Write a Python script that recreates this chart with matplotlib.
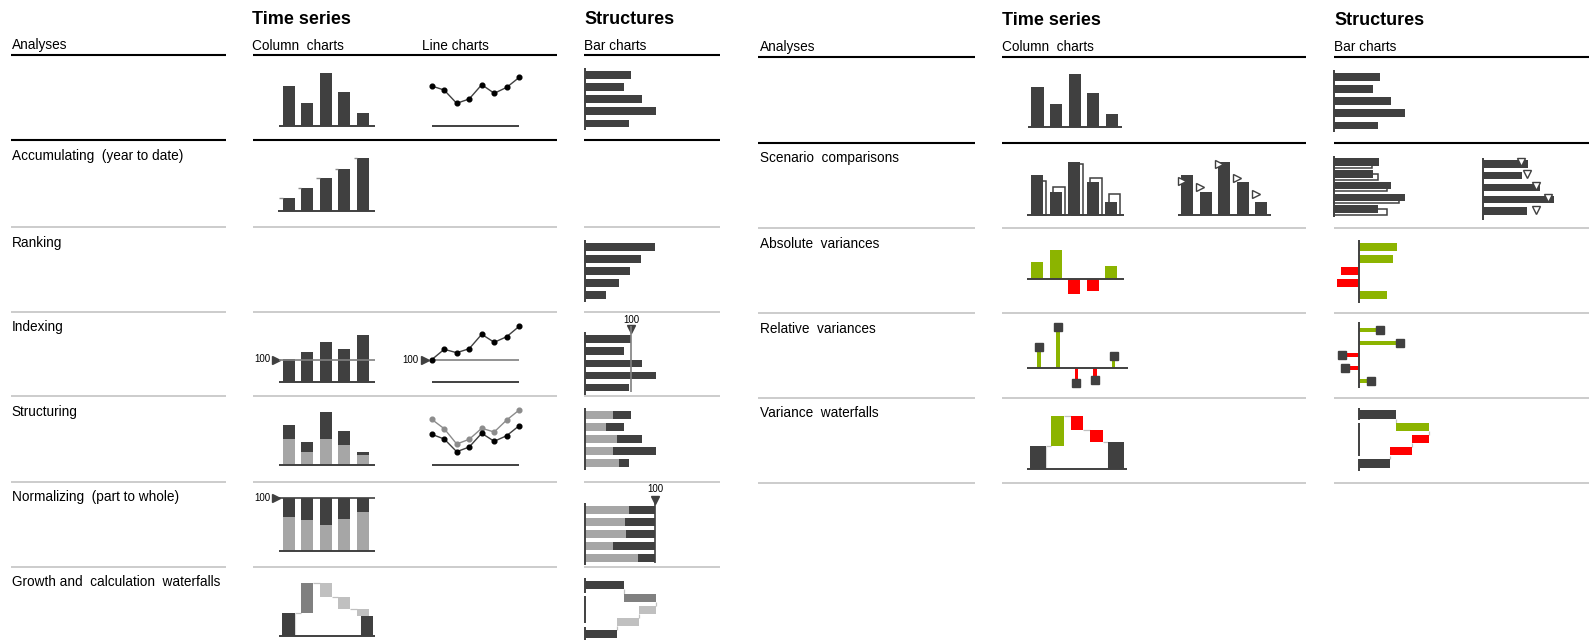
import matplotlib
matplotlib.use('Agg')
import matplotlib.pyplot as plt
from matplotlib.lines import Line2D
import numpy as np

plt.rcParams['font.family'] = ['Liberation Sans', 'DejaVu Sans']

W, H = 1591, 640
fig = plt.figure(figsize=(W / 100, H / 100), dpi=100)

DARK = '#404040'; LIGHT = '#a6a6a6'; MID = '#808080'; PALE = '#c0c0c0'
GREEN = '#8cb400'; RED = '#ff0000'; RULE = '#bfbfbf'; LGRAY = '#8c8c8c'

# ---------------- data ----------------
section_titles = ['Time series', 'Structures']
left_headers = ['Analyses', 'Column  charts', 'Line charts', 'Bar charts']
left_rows = ['Accumulating  (year to date)', 'Ranking', 'Indexing', 'Structuring',
             'Normalizing  (part to whole)', 'Growth and  calculation  waterfalls']
right_headers = ['Analyses', 'Column  charts', 'Bar charts']
right_rows = ['Scenario  comparisons', 'Absolute  variances', 'Relative  variances',
              'Variance  waterfalls']
index_label = '100'

col_basic = [40, 23, 53, 33.5, 13]
line_basic = [39.7, 35.7, 22.4, 26.7, 41, 32.4, 38.4, 48.4]
bar_basic = [45.5, 39, 57, 71, 44]
col_accum = [13.3, 23, 32.7, 41.7, 53]
bar_rank = [70, 56.3, 44.7, 34, 21]
col_index = [22.4, 29.7, 39.4, 33, 46.7]
col_index_ref = 22.2
line_index = [22, 32.4, 29, 33, 47.4, 39.4, 45, 55.4]
line_index_ref = 22
bar_index_ref = 46
col_struct_total = [40, 23.3, 52.7, 34, 13.3]
col_struct_part = [26, 13.3, 26, 19.7, 10]
line_struct_a = [45.7, 36.3, 21, 25.7, 36.7, 33, 45, 55]
line_struct_b = [30.7, 26, 13.3, 18, 31.7, 23.7, 29.3, 39.3]
bar_struct_part = [28, 20.7, 32.3, 28, 34]
col_norm_total = 53
col_norm_part = [34, 30.7, 25.7, 31.4, 39]
bar_norm_total = 70
bar_norm_part = [44, 39.7, 40.7, 28.3, 53]
col_growth = [22.3, 30, -13.3, -12.6, -6.4]
col_growth_end = 20
bar_growth = [38.5, 32, -16.5, -22.5]
bar_growth_end = 31.5

col_py = [34.6, 28.6, 51, 37, 21]
bar_py = [38.8, 44.3, 53.3, 65.7, 53.3]
col_abs = [16.7, 29, -15, -12, 13]
bar_abs = [38.2, 34.3, -18.3, -22.2, 28.4]
col_rel = [21.3, 41.3, -15.3, -12, 12]
bar_rel = [20.7, 40.9, -16.4, -13.8, 12.1]
col_var_wf = [23.3, 30, -14.3, -12.3]
col_var_wf_end = 26.7
bar_var_wf = [37.4, 33.1, -17.4, -22.2]
bar_var_wf_end = 30.9

# ---------------- helpers ----------------
def fig_axes(left, top, right, bottom):
    ax = fig.add_axes([left / W, 1 - bottom / H, (right - left) / W, (bottom - top) / H])
    ax.axis('off')
    return ax


def col_axes(c0, pitch, base, xlo=-1.6, xhi=5.2, ylo=-25, yhi=62):
    ax = fig_axes(c0 + xlo * pitch, base - yhi, c0 + xhi * pitch, base - ylo)
    ax.set_xlim(xlo, xhi)
    ax.set_ylim(ylo, yhi)
    return ax


def bar_axes(a0, c0, pitch, xlo=-30, xhi=85, ylo=-2.2, yhi=5.2):
    ax = fig_axes(a0 + xlo, c0 + ylo * pitch, a0 + xhi, c0 + yhi * pitch)
    ax.set_xlim(xlo, xhi)
    ax.set_ylim(yhi, ylo)
    return ax


def ftext(x, y, s, **kw):
    fig.text(x / W, 1 - y / H, s, **kw)


def hrule(x0, x1, y, color, lw):
    fig.add_artist(Line2D([x0 / W, x1 / W], [1 - y / H, 1 - y / H],
                          transform=fig.transFigure, color=color, lw=lw,
                          solid_capstyle='butt'))


def baseline(ax, x0=-0.52, x1=4.62):
    ax.hlines(0, x0, x1, color=DARK, lw=1.4)


def vaxis(ax, y0=-0.58, y1=4.58):
    ax.vlines(0, y0, y1, color=DARK, lw=1.4)


X5 = np.arange(5)
X8 = np.arange(8)
CW = 0.65   # column width (category units)
BH = 0.64   # bar height (category units)
TFS = 13    # title font size
LFS = 9.8   # label font size
SFS = 7     # small label

# ---------------- table frames ----------------
ftext(252.5, 23.5, section_titles[0], fontsize=TFS, fontweight='bold')
ftext(584.5, 23.5, section_titles[1], fontsize=TFS, fontweight='bold')
for s, x in zip(left_headers, [11.5, 252.5, 422, 584.5]):
    ftext(x, 49.5, s, fontsize=LFS)
L_SEG = [(10.5, 226), (252.5, 557), (584, 720)]
L_LINES = [55, 140, 226.5, 311.5, 396, 481.5, 566.5]
for i, y in enumerate(L_LINES):
    for x0, x1 in L_SEG:
        if i < 2:
            hrule(x0, x1, y, 'black', 1.5)
        else:
            hrule(x0, x1, y, RULE, 1.1)
for s, y in zip(left_rows, L_LINES[1:]):
    ftext(11.5, y + 20, s, fontsize=LFS)

ftext(1001.8, 25, section_titles[0], fontsize=TFS, fontweight='bold')
ftext(1334, 25, section_titles[1], fontsize=TFS, fontweight='bold')
for s, x in zip(right_headers, [760, 1002, 1334]):
    ftext(x, 51, s, fontsize=LFS)
R_SEG = [(757.5, 974.5), (1001.8, 1305.5), (1334, 1589)]
R_LINES = [57.3, 142.7, 228.3, 313.3, 397.8, 483]
for i, y in enumerate(R_LINES):
    for x0, x1 in R_SEG:
        if i < 2:
            hrule(x0, x1, y, 'black', 1.5)
        else:
            hrule(x0, x1, y, RULE, 1.1)
for s, y in zip(right_rows, R_LINES[1:]):
    ftext(760, y + 19.5, s, fontsize=LFS)

# ================= LEFT TABLE CHARTS =================
ax = col_axes(288.6, 18.6, 125.7)
ax.bar(X5, col_basic, width=CW, color=DARK)
baseline(ax, -0.5, 4.62)

ax = col_axes(431.6, 12.53, 125.7, xlo=-2, xhi=8)
ax.plot(X8, line_basic, color=DARK, lw=1.0, marker='o', ms=3.4, mfc='black', mec='black')
ax.hlines(0, 0, 7, color=DARK, lw=1.4)

ax = bar_axes(585, 75, 12.1)
ax.barh(X5, bar_basic, height=BH, color=DARK)
vaxis(ax)

# accumulating
ax = col_axes(288.6, 18.6, 211)
ax.bar(X5, col_accum, width=CW, color=DARK)
ax.hlines(col_accum, X5 - CW / 2 - 0.18, X5 - CW / 2, color=LGRAY, lw=1.0)
baseline(ax, -0.55, 4.62)

# ranking
ax = bar_axes(585, 246.7, 12.1)
ax.barh(X5, bar_rank, height=BH, color=DARK)
vaxis(ax)

# indexing
ax = col_axes(288.6, 18.6, 381.7)
ax.bar(X5, col_index, width=CW, color=DARK, zorder=2)
ax.hlines(col_index_ref, -0.5, 4.62, color=MID, lw=1.2, zorder=3)
ax.plot([-0.68], [col_index_ref], marker='>', ms=5.5, color=DARK, clip_on=False)
ax.text(-1.0, col_index_ref, index_label, fontsize=SFS, ha='right', va='center')
baseline(ax, -0.5, 4.62)

ax = col_axes(431.7, 12.5, 381.7, xlo=-3.5, xhi=8)
ax.hlines(line_index_ref, 0, 7, color=MID, lw=1.2)
ax.plot(X8, line_index, color=DARK, lw=1.0, marker='o', ms=3.4, mfc='black', mec='black')
ax.plot([-0.55], [line_index_ref], marker='>', ms=5.5, color=DARK)
ax.text(-1.08, line_index_ref, index_label, fontsize=SFS, ha='right', va='center')
ax.hlines(0, 0, 7, color=DARK, lw=1.4)

ax = bar_axes(585, 339.2, 12.1)
ax.barh(X5, bar_basic, height=BH, color=DARK, zorder=2)
ax.vlines(bar_index_ref, -1.09, 4.35, color=MID, lw=1.2, zorder=3)
ax.plot([bar_index_ref], [-0.85], marker='v', ms=5.5, color=DARK)
ax.text(bar_index_ref + 0.8, -1.55, index_label, fontsize=SFS, ha='center', va='center')
vaxis(ax)

# structuring
ax = col_axes(288.6, 18.6, 465)
ax.bar(X5, col_struct_part, width=CW, color=LIGHT)
ax.bar(X5, np.subtract(col_struct_total, col_struct_part), bottom=col_struct_part,
       width=CW, color=DARK)
baseline(ax, -0.52, 4.62)

ax = col_axes(431.7, 12.5, 465, xlo=-2, xhi=8)
ax.plot(X8, line_struct_a, color=LGRAY, lw=1.0, marker='o', ms=3.4)
ax.plot(X8, line_struct_b, color=DARK, lw=1.0, marker='o', ms=3.4, mfc='black', mec='black')
ax.hlines(0, 0, 7, color=DARK, lw=1.4)

ax = bar_axes(585, 415.2, 12.03)
ax.barh(X5, bar_struct_part, height=BH, color=LIGHT)
ax.barh(X5, np.subtract(bar_basic, bar_struct_part), left=bar_struct_part,
        height=BH, color=DARK)
vaxis(ax)

# normalizing
ax = col_axes(288.6, 18.6, 550.7)
ax.bar(X5, col_norm_part, width=CW, color=LIGHT)
ax.bar(X5, np.subtract(col_norm_total, col_norm_part), bottom=col_norm_part,
       width=CW, color=DARK)
ax.hlines(col_norm_total, -0.5, 4.62, color=DARK, lw=1.2)
ax.plot([-0.66], [col_norm_total], marker='>', ms=5.5, color=DARK, clip_on=False)
ax.text(-1.0, col_norm_total, index_label, fontsize=SFS, ha='right', va='center')
baseline(ax, -0.52, 4.62)

ax = bar_axes(585, 509.8, 12.0)
ax.barh(X5, bar_norm_part, height=BH, color=LIGHT)
ax.barh(X5, np.subtract(bar_norm_total, bar_norm_part), left=bar_norm_part,
        height=BH, color=DARK)
ax.vlines(bar_norm_total, -1.1, 4.45, color=DARK, lw=1.2)
ax.plot([bar_norm_total], [-0.85], marker='v', ms=5.5, color=DARK)
ax.text(bar_norm_total + 0.8, -1.7, index_label, fontsize=SFS, ha='center', va='center')
vaxis(ax)

# growth waterfalls
ax = col_axes(288.6, 18.6, 635.7)
lv = np.cumsum(col_growth)
starts = np.concatenate([[0], lv[:-1]])
wf_colors = [DARK, MID, PALE, PALE, PALE]
wf_w = [0.68, CW, CW, CW, CW]
ax.bar(X5, col_growth, bottom=starts, width=wf_w, color=wf_colors, zorder=2)
ax.bar([4.2], [col_growth_end], width=0.63, color=DARK, zorder=3)
ax.hlines(lv[:-1], X5[:-1] + CW / 2, X5[1:] - CW / 2, color=PALE, lw=0.9, zorder=1)
ax.vlines([0.34, 3.88], 0, [lv[0], col_growth_end], color='#d9d9d9', lw=0.8, zorder=1)
baseline(ax, -0.5, 4.62)

ax = bar_axes(585, 585.4, 12.2)
lvb = np.cumsum(bar_growth)
startsb = np.concatenate([[0], lvb[:-1]])
ax.barh(X5[:4], bar_growth, left=startsb, height=BH, color=[DARK, MID, PALE, PALE], zorder=2)
ax.barh([4], [bar_growth_end], height=BH, color=DARK, zorder=2)
ax.vlines(lvb, X5[:4] + BH / 2, X5[1:] - BH / 2, color=PALE, lw=0.9, zorder=1)
ax.vlines(0, -0.6, 0.6, color=DARK, lw=1.4)
ax.vlines(0, 0.9, 3.1, color=DARK, lw=1.4)
ax.vlines(0, 3.4, 4.6, color=DARK, lw=1.4)

# ================= RIGHT TABLE CHARTS =================
ax = col_axes(1037.5, 18.6, 126.7)
ax.bar(X5, col_basic, width=CW, color=DARK)
baseline(ax, -0.53, 4.52)

ax = bar_axes(1334, 77, 12.1)
ax.barh(X5, bar_basic, height=BH, color=DARK)
vaxis(ax)

# scenario comparisons
ax = col_axes(1037.25, 18.5, 215.3)
ax.bar(X5 + 0.18, col_py, width=0.62, facecolor='white', edgecolor=DARK, lw=1.1, zorder=1)
ax.bar(X5, col_basic, width=CW, color=DARK, zorder=2)
baseline(ax, -0.53, 4.7)

ax = col_axes(1187.35, 18.45, 215.3)
ax.bar(X5, col_basic, width=CW, color=DARK, zorder=2)
ax.plot(X5 - CW / 2 + 0.03, col_py, ls='none', marker='>', ms=5.2, mfc='white',
        mec=DARK, mew=1.0, zorder=3)
baseline(ax, -0.53, 4.55)

ax = bar_axes(1333.5, 162, 11.8)
ax.barh(X5 + 0.24, bar_py, height=0.5, facecolor='white', edgecolor=DARK, lw=1.1, zorder=1)
ax.barh(X5, bar_basic, height=0.65, color=DARK, zorder=2)
vaxis(ax, -0.55, 4.7)

ax = bar_axes(1482.5, 163.7, 11.9)
ax.barh(X5, bar_basic, height=0.64, color=DARK, zorder=2)
ax.plot(bar_py, X5 - 0.15, ls='none', marker='v', ms=5.2, mfc='white',
        mec=DARK, mew=1.0, zorder=3)
vaxis(ax, -0.45, 4.7)

# absolute variances
ax = col_axes(1037.25, 18.5, 279)
ax.bar(X5, col_abs, width=CW, color=[GREEN if v > 0 else RED for v in col_abs])
baseline(ax, -0.53, 4.7)

ax = bar_axes(1358.8, 247.2, 12.03)
ax.barh(X5, bar_abs, height=BH, color=[GREEN if v > 0 else RED for v in bar_abs])
vaxis(ax, -0.6, 4.6)

# relative variances
ax = col_axes(1039.2, 18.6, 368)
ax.bar(X5, col_rel, width=0.2, color=[GREEN if v > 0 else RED for v in col_rel], zorder=2)
ax.plot(X5, col_rel, ls='none', marker='s', ms=6, color=DARK, zorder=3)
baseline(ax, -0.63, 4.75)

ax = bar_axes(1358.8, 330, 12.67)
ax.barh(X5, bar_rel, height=0.32, color=[GREEN if v > 0 else RED for v in bar_rel], zorder=2)
ax.plot(bar_rel, X5, ls='none', marker='s', ms=6, color=DARK, zorder=3)
vaxis(ax, -0.6, 4.6)

# variance waterfalls
ax = col_axes(1038, 19.5, 469)
lvr = np.cumsum(col_var_wf)
startsr = np.concatenate([[0], lvr[:-1]])
vcols = [DARK] + [GREEN if v > 0 else RED for v in col_var_wf[1:]]
vw = [0.79, CW, CW, CW]
ax.bar(X5[:4], col_var_wf, bottom=startsr, width=vw, color=vcols, zorder=2)
ax.bar([4], [col_var_wf_end], width=0.8, color=DARK, zorder=2)
ax.hlines(lvr, [0.395, 1 + CW / 2, 2 + CW / 2, 3 + CW / 2],
          [1 - CW / 2, 2 - CW / 2, 3 - CW / 2, 3.6], color=PALE, lw=0.9, zorder=1)
ax.vlines([0.395, 3.6], 0, [lvr[0], col_var_wf_end], color='#d9d9d9', lw=0.8, zorder=1)
baseline(ax, -0.55, 4.55)

ax = bar_axes(1358.8, 414.7, 12.2)
lvbr = np.cumsum(bar_var_wf)
startsbr = np.concatenate([[0], lvbr[:-1]])
bcols = [DARK] + [GREEN if v > 0 else RED for v in bar_var_wf[1:]]
ax.barh(X5[:4], bar_var_wf, left=startsbr, height=[0.76, 0.68, 0.68, 0.68], color=bcols, zorder=2)
ax.barh([4], [bar_var_wf_end], height=0.76, color=DARK, zorder=2)
ax.vlines(lvbr, X5[:4] + 0.36, X5[1:] - 0.34, color=PALE, lw=0.9, zorder=1)
ax.vlines(0, -0.55, 0.45, color=DARK, lw=1.4)
ax.vlines(0, 0.7, 3.35, color=DARK, lw=1.4)
ax.vlines(0, 3.6, 4.6, color=DARK, lw=1.4)

fig.savefig('out.png', dpi=100, facecolor='white')
